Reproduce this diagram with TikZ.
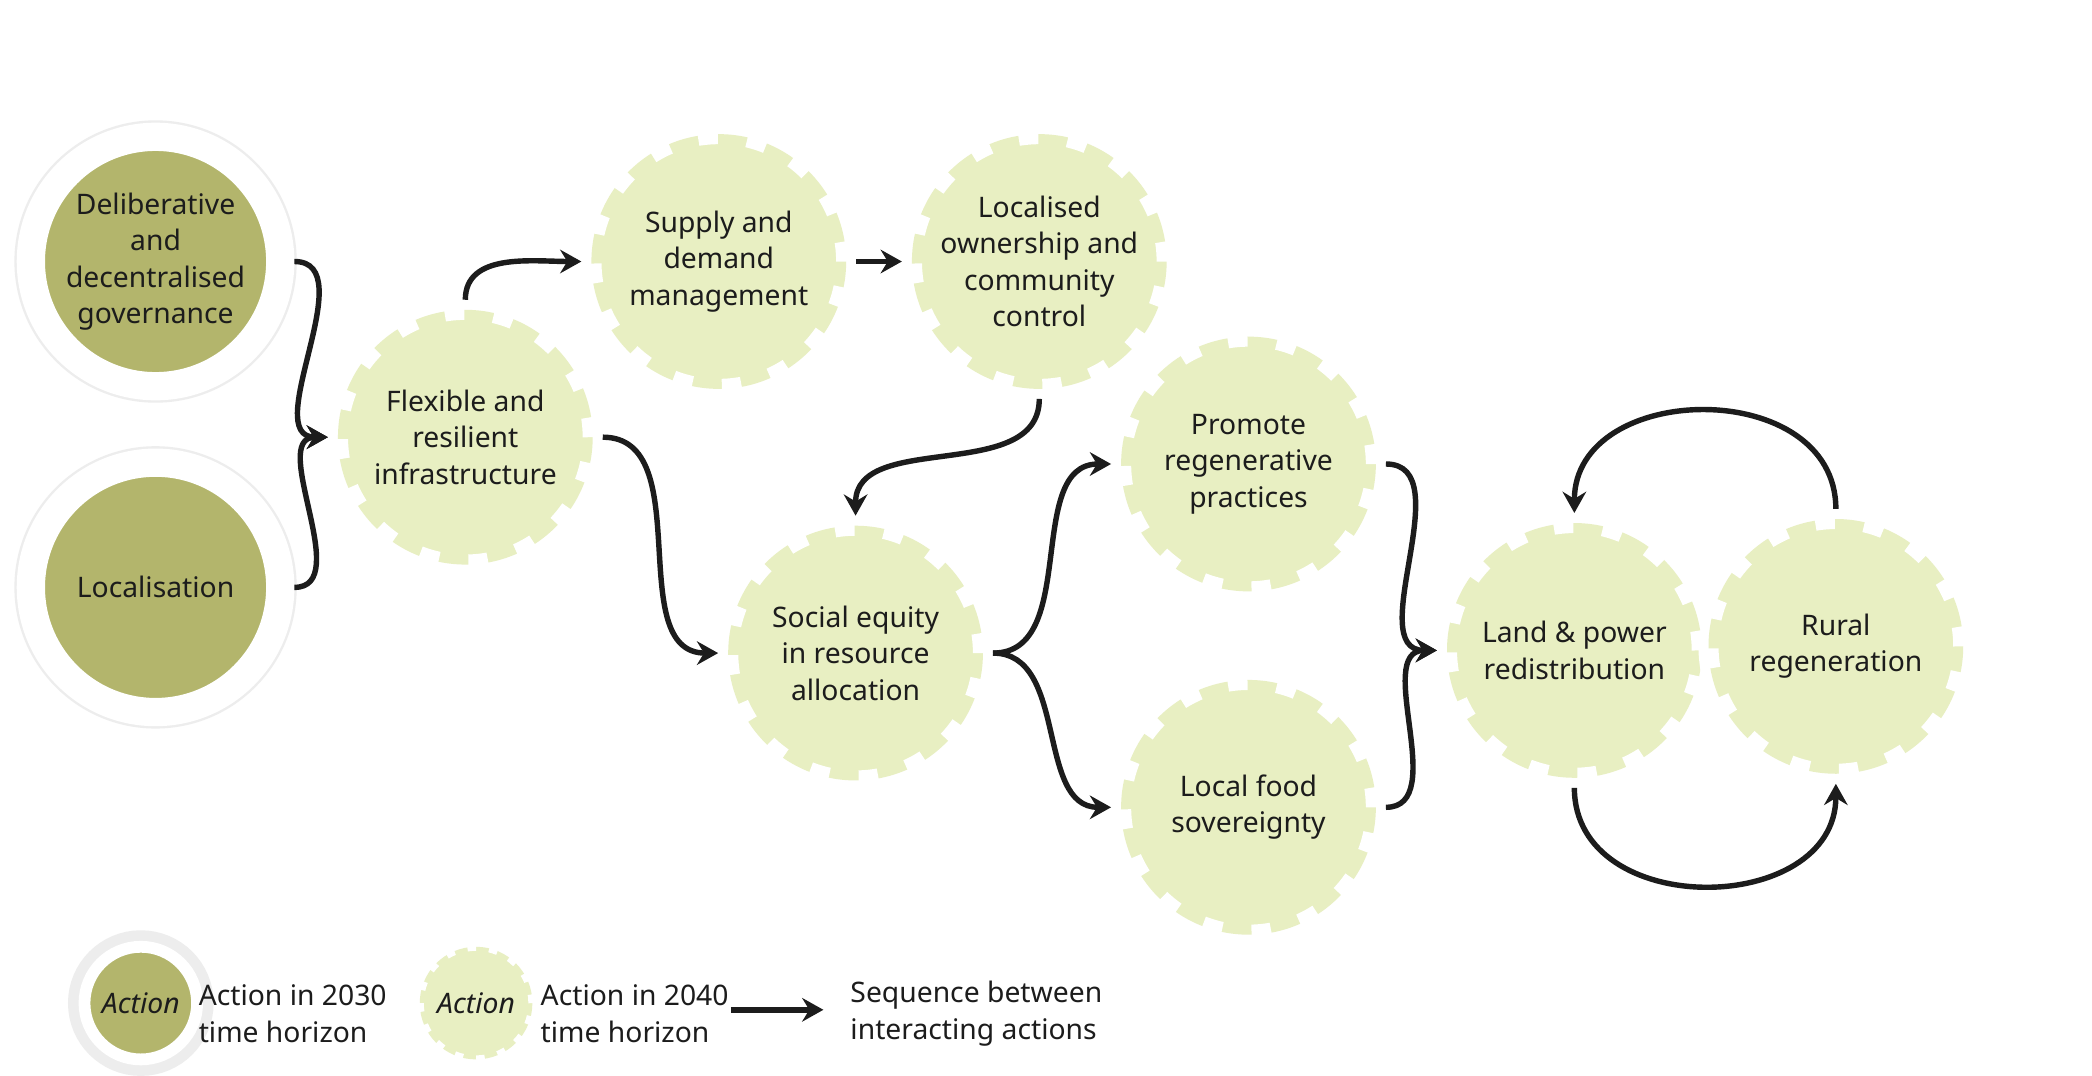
\documentclass[tikz,border=0pt]{standalone}
\usepackage{fontspec}
\setmainfont{Noto Sans}
\usetikzlibrary{arrows.meta,positioning}
\definecolor{oliveact}{HTML}{B3B56C}
\definecolor{paleact}{HTML}{E8EFC2}
\definecolor{inkline}{HTML}{1C1C1C}
\tikzset{
  oldact/.style={circle, fill=oliveact, text=inkline, align=center, font=\bfseries\fontsize{12}{15.5}\selectfont,
    minimum size=3.72cm, inner sep=0pt, preaction={draw=black!7, line width=14pt}, draw=white, line width=12pt},
  newact/.style={circle, fill=paleact, text=inkline, align=center, font=\fontsize{12}{15.5}\selectfont,
    minimum size=3.8cm, inner sep=0pt, draw=white, line width=0.3cm, dash pattern=on 0.3cm off 0.45cm},
  smallold/.style={oldact, minimum size=1.68cm, font=\itshape\fontsize{12}{15.5}\selectfont, line width=5pt, preaction={draw=black!7, line width=6pt}},
  smallnew/.style={newact, minimum size=1.68cm, font=\itshape\fontsize{12}{15.5}\selectfont, line width=0.12cm, dash pattern=on 0.13cm off 0.2cm},
  legtext/.style={anchor=west, align=left, text=inkline, font=\fontsize{12}{15.5}\selectfont},
  link/.style={draw=inkline, line width=2.3pt, -{Stealth[length=9pt,width=10pt,inset=3pt]}}
}
\begin{document}
\begin{tikzpicture}[x=0.02cm, y=-0.02cm]
\useasboundingbox[fill=white] (0,0) rectangle (1560,802);

\node[oldact] (delib) at (116,195) {Deliberative\\and\\decentralised\\governance};
\node[oldact] (local) at (116,438) {Localisation};
\node[newact] (flex) at (347,326) {Flexible and\\resilient\\infrastructure};
\node[newact] (supply) at (536,195) {Supply and\\demand\\management};
\node[newact] (owner) at (775,195) {Localised\\ownership and\\community\\control};
\node[newact] (equity) at (638,487) {Social equity\\in resource\\allocation};
\node[newact] (regen) at (931,346) {Promote\\regenerative\\practices};
\node[newact] (food) at (931,602) {Local food\\sovereignty};
\node[newact] (land) at (1174,485) {Land \& power\\redistribution};
\node[newact] (rural) at (1369,482) {Rural\\regeneration};

% legend
\node[smallold] (leg1) at (105,748) {Action};
\node[legtext] (leg1t) at (142,756) {Action in 2030\\time horizon};
\node[smallnew] (leg2) at (355,748) {Action};
\node[legtext] (leg2t) at (397,756) {Action in 2040\\time horizon};
\coordinate (legA) at (545,753);
\coordinate (legB) at (614,753);
\node[legtext] (leg3t) at (628,756) {Sequence between\\interacting actions};
\draw[link] (legA) -- (legB);

\draw[link] (delib.east) to[out=0,in=180] (flex.west);
\draw[link] (local.east) to[out=0,in=180] (flex.west);
\draw[link] (flex.north) to[out=90,in=180] (supply.west);
\draw[link] (supply.east) -- (owner.west);
\draw[link] (owner.south) to[out=-90,in=90] (equity.north);
\draw[link] (flex.east) to[out=0,in=180] (equity.west);
\draw[link] (equity.east) to[out=0,in=180] (regen.west);
\draw[link] (equity.east) to[out=0,in=180] (food.west);
\draw[link] (regen.east) to[out=0,in=180] (land.west);
\draw[link] (food.east) to[out=0,in=180] (land.west);
\draw[link] (rural.north) to[out=90,in=90,looseness=1.3] (land.north);
\draw[link] (land.south) to[out=-90,in=-90,looseness=1.3] (rural.south);
\end{tikzpicture}
\end{document}
